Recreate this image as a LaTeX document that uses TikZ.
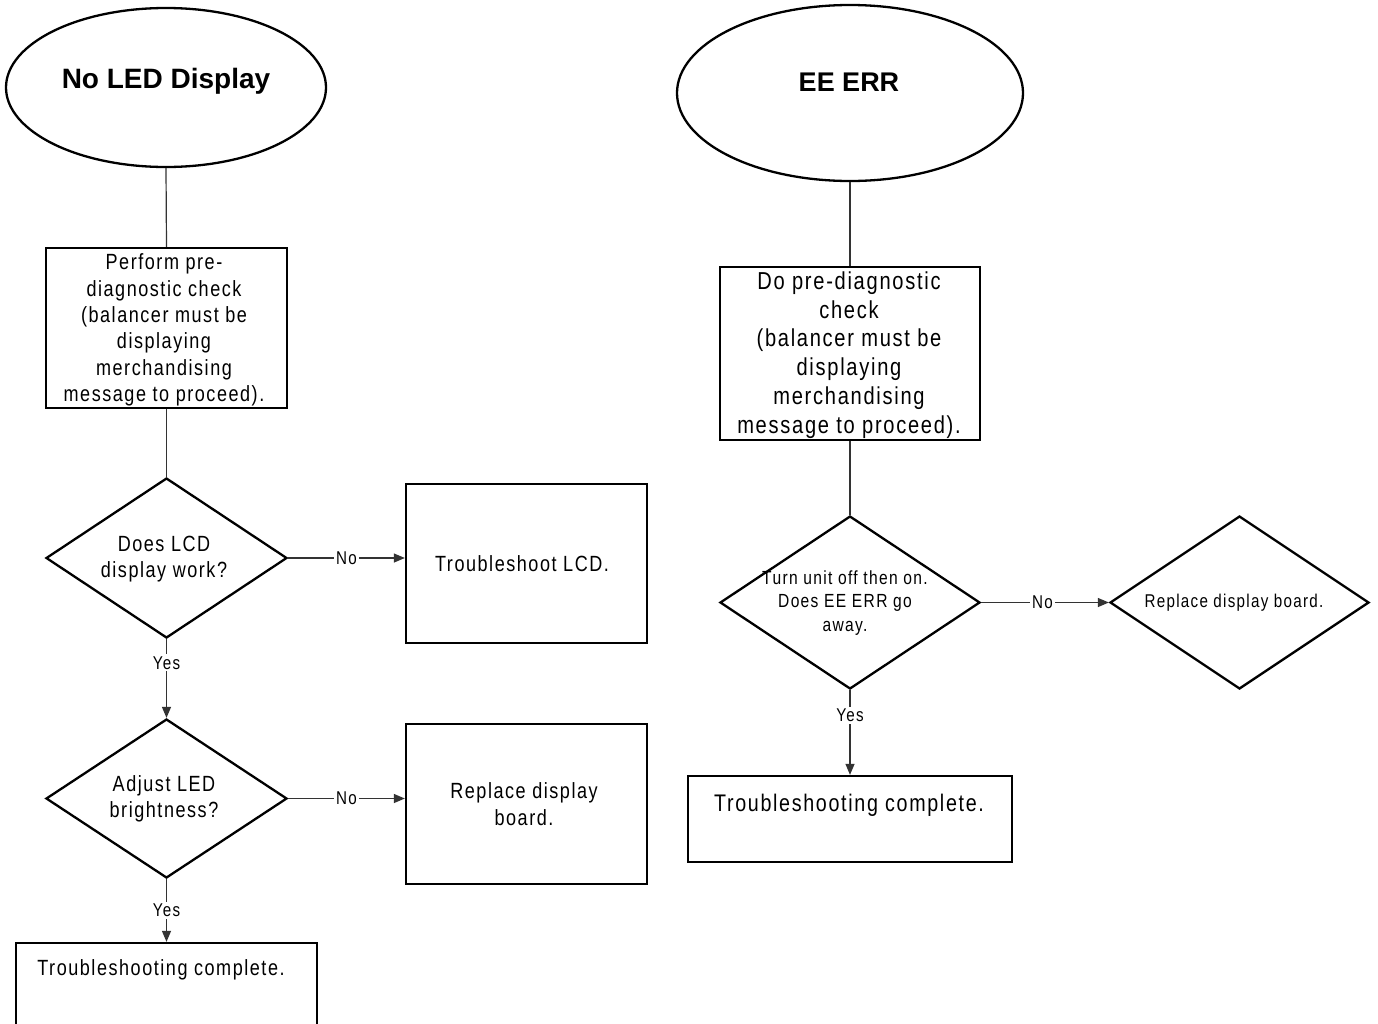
\documentclass[tikz,border=0pt]{standalone}
\usepackage{fontspec}
\setmainfont{Liberation Sans}[FakeStretch=0.82,LetterSpace=7]
\newfontfamily\titlefont{Liberation Sans}
\usetikzlibrary{shapes.geometric,arrows.meta}
\begin{document}
\begin{tikzpicture}[x=1pt,y=-1pt,
  shapeline/.style={draw=black, line width=2.3pt, inner sep=0pt, fill=white},
  boxnode/.style={shapeline, rectangle},
  dianode/.style={shapeline, diamond},
  ellnode/.style={shapeline, ellipse},
  txt/.style={align=center, inner sep=0pt, text=black},
  title/.style={txt, font=\titlefont\bfseries\fontsize{28}{32}\selectfont},
  conn/.style={draw=black!80, line width=1.2pt},
  arr/.style={conn, -{Triangle[length=11pt,width=9pt]}},
  lbl/.style={fill=white, inner sep=2pt, text=black, font=\fontsize{18.5}{22}\selectfont}
]
\clip (0,0) rectangle (1378,1023);
\fill[white] (0,0) rectangle (1378,1023);

% ---------- left column ----------
\node[ellnode, minimum width=320pt, minimum height=159pt] (e1) at (166,87.5) {};
\node[title] (e1t) at (166,81) {No LED Display};

\node[boxnode, minimum width=241pt, minimum height=160pt] (b1) at (166.5,328) {};
\node[txt, font=\fontsize{22}{26.4}\selectfont] (b1t) at (164,330) {Perform pre-\\diagnostic check\\(balancer must be\\displaying\\merchandising\\message to proceed).};

\node[dianode, minimum width=241pt, minimum height=160pt] (d1) at (166.5,558) {};
\node[txt, font=\fontsize{22}{26.4}\selectfont] (d1t) at (164,559) {Does LCD\\display work?};

\node[boxnode, minimum width=241pt, minimum height=159pt] (b2) at (526.5,563.5) {};
\node[txt, font=\fontsize{22}{26.4}\selectfont] (b2t) at (522,564) {Troubleshoot LCD.};

\node[dianode, minimum width=241pt, minimum height=159pt] (d2) at (166.5,798.5) {};
\node[txt, font=\fontsize{22}{26.4}\selectfont] (d2t) at (164,799) {Adjust LED\\brightness?};

\node[boxnode, minimum width=241pt, minimum height=160pt] (b3) at (526.5,804) {};
\node[txt, font=\fontsize{22}{26.4}\selectfont] (b3t) at (524,804) {Replace display\\board.};

\node[boxnode, minimum width=301pt, minimum height=130pt] (b4) at (166.5,1008) {};
\node[txt, font=\fontsize{22}{26.4}\selectfont] (b4t) at (161,970) {Troubleshooting complete.};

\draw[conn] (e1.south) -- (b1.north);
\draw[conn] (b1.south) -- (d1.north);
\draw[arr] (d1.east) -- node[lbl]{No} (d1.east -| b2.west);
\draw[arr] (d1.south) -- node[lbl,pos=0.3]{Yes} (d2.north);
\draw[arr] (d2.east) -- node[lbl]{No} (d2.east -| b3.west);
\draw[arr] (d2.south) -- node[lbl,pos=0.5]{Yes} (b4.north);

% ---------- right column ----------
\node[ellnode, minimum width=346pt, minimum height=176pt] (e2) at (850,93) {};
\node[title, font=\titlefont\bfseries\fontsize{27}{32}\selectfont] (e2t) at (849,82) {EE ERR};

\node[boxnode, minimum width=260pt, minimum height=173pt] (b5) at (850,353.5) {};
\node[txt, font=\fontsize{24.5}{28.8}\selectfont] (b5t) at (849,355) {Do pre-diagnostic\\check\\(balancer must be\\displaying\\merchandising\\message to proceed).};

\node[dianode, minimum width=260pt, minimum height=173pt] (d3) at (850,602.5) {};
\node[txt, font=\fontsize{19}{23.5}\selectfont] (d3t) at (845,603) {Turn unit off then on.\\Does EE ERR go\\away.};

\node[dianode, minimum width=259pt, minimum height=173pt] (d4) at (1239.5,602.5) {};
\node[txt, font=\fontsize{18.5}{22}\selectfont] (d4t) at (1234,603) {Replace display board.};

\node[boxnode, minimum width=324pt, minimum height=86pt] (b6) at (850,819) {};
\node[txt, font=\fontsize{24}{28}\selectfont] (b6t) at (849,805) {Troubleshooting complete.};

\draw[conn] (e2.south) -- (b5.north);
\draw[conn] (b5.south) -- (d3.north);
\draw[arr] (d3.east) -- node[lbl,pos=0.48]{No} (d4.west);
\draw[arr] (d3.south) -- node[lbl,pos=0.3]{Yes} (b6.north);
\end{tikzpicture}
\end{document}
